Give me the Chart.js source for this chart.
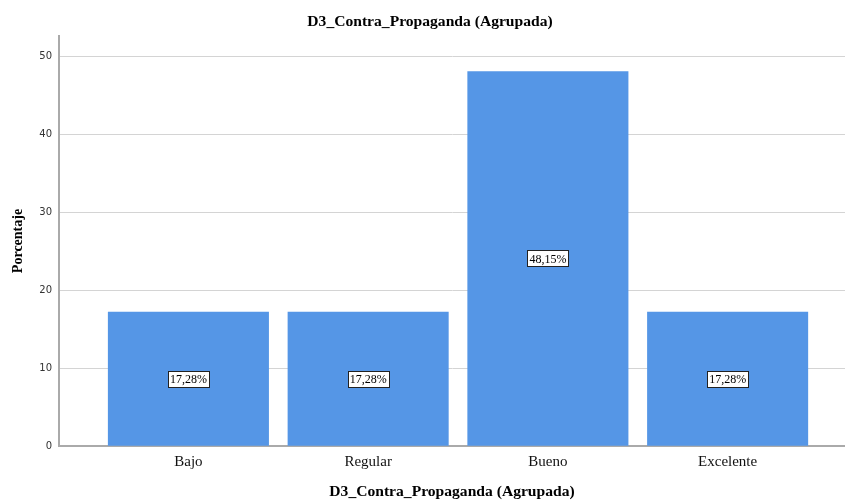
<!DOCTYPE html>
<html>
<head>
<meta charset="utf-8">
<script src="https://cdn.jsdelivr.net/npm/chart.js@4"></script>
<style>
html,body{margin:0;padding:0;background:#fff;}
#wrap{width:845px;height:501px;position:relative;}
</style>
</head>
<body>
<div id="wrap"><canvas id="c" width="845" height="501"></canvas></div>
<script>
const categories = ["Bajo", "Regular", "Bueno", "Excelente"];
const percentages = [17.28, 17.28, 48.15, 17.28];
const yTicks = [0, 10, 20, 30, 40, 50];
const chartTitle = "D3_Contra_Propaganda (Agrupada)";
const yTitle = "Porcentaje";

const points = categories.map((c, i) => ({ x: i, y: percentages[i] }));

const labelPlugin = {
  id: 'boxLabels',
  afterDatasetsDraw(chart) {
    const ctx = chart.ctx;
    const meta = chart.getDatasetMeta(0);
    ctx.save();
    ctx.font = '12px "Liberation Serif", serif';
    ctx.textAlign = 'center';
    ctx.textBaseline = 'middle';
    meta.data.forEach((bar, i) => {
      const txt = percentages[i].toFixed(2).replace('.', ',') + '%';
      const cx = bar.x;
      const cy = (bar.y + bar.base) / 2;
      const w = ctx.measureText(txt).width + 4;
      const h = 16;
      const x0 = Math.round(cx - w / 2) + 0.5;
      const y0 = Math.round(cy - h / 2) + 0.5;
      ctx.fillStyle = '#fff';
      ctx.fillRect(x0, y0, Math.round(w), h);
      ctx.strokeStyle = '#222';
      ctx.lineWidth = 1;
      ctx.strokeRect(x0, y0, Math.round(w), h);
      ctx.fillStyle = '#000';
      ctx.fillText(txt, cx, cy + 1);
    });
    ctx.restore();
  }
};

new Chart(document.getElementById('c'), {
  type: 'bar',
  data: {
    datasets: [{
      data: points,
      backgroundColor: '#5596E6',
      borderWidth: 0,
      barPercentage: 0.896,
      categoryPercentage: 1.0
    }]
  },
  options: {
    responsive: false,
    animation: false,
    layout: { padding: { left: 15, right: 0, top: 0, bottom: 0 } },
    plugins: {
      legend: { display: false },
      tooltip: { enabled: false },
      title: {
        display: true,
        text: chartTitle,
        color: '#000',
        font: { family: '"Liberation Serif", serif', size: 15.6, weight: 'bold' },
        padding: { top: 13, bottom: 4 }
      }
    },
    scales: {
      x: {
        type: 'linear',
        offset: false,
        min: -0.72,
        max: 3.653,
        afterBuildTicks(scale) {
          scale.ticks = categories.map((c, i) => ({ value: i }));
        },
        ticks: {
          callback: (v) => categories[v] ?? '',
          color: '#111',
          font: { family: '"Liberation Serif", serif', size: 15 },
          padding: 7,
          maxRotation: 0,
          autoSkip: false
        },
        grid: { display: false, drawTicks: false, offset: false },
        border: { display: true, color: '#aaa', width: 2 },
        title: {
          display: true,
          text: chartTitle,
          color: '#000',
          font: { family: '"Liberation Serif", serif', size: 15.6, weight: 'bold' },
          padding: { top: 4, bottom: 0 }
        }
      },
      y: {
        type: 'linear',
        min: 0,
        max: 52.7,
        afterBuildTicks(scale) {
          scale.ticks = yTicks.map(v => ({ value: v }));
        },
        afterFit(scale) { scale.width = 44; },
        ticks: {
          color: '#333',
          font: { family: '"DejaVu Sans", sans-serif', size: 10 },
          padding: 7
        },
        grid: { color: '#d4d4d4', lineWidth: 1, drawTicks: false },
        border: { display: true, color: '#aaa', width: 2 },
        title: {
          display: true,
          text: yTitle,
          color: '#000',
          font: { family: '"Liberation Serif", serif', size: 14, weight: 'bold' },
          padding: { top: -5, bottom: 0 }
        }
      }
    }
  },
  plugins: [labelPlugin]
});
</script>
</body>
</html>
